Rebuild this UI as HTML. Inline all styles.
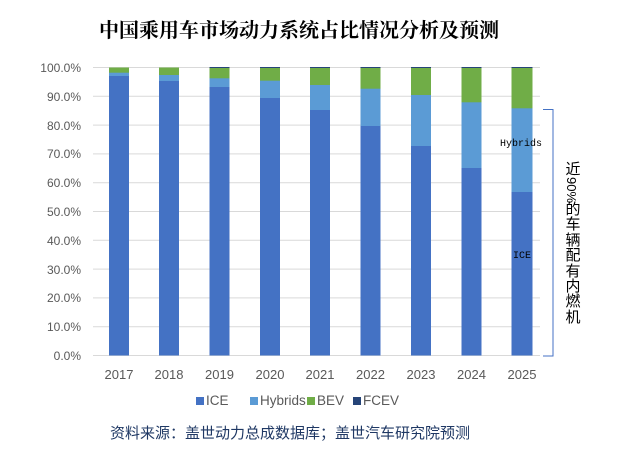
<!DOCTYPE html>
<html><head><meta charset="utf-8"><style>
body{margin:0;background:#fff;}
svg{display:block;}
</style></head><body>
<svg width="626" height="454" xmlns="http://www.w3.org/2000/svg">
<rect width="626" height="454" fill="#fff"/>
<text x="299" y="37" text-anchor="middle" font-family="'Noto Serif CJK SC','Noto Sans CJK SC',serif" font-weight="bold" font-size="20" fill="#000">中国乘用车市场动力系统占比情况分析及预测</text>
<g stroke="#d9d9d9" stroke-width="1">
<line x1="93" x2="540" y1="67.5" y2="67.5"/><line x1="93" x2="540" y1="96.3" y2="96.3"/><line x1="93" x2="540" y1="125.1" y2="125.1"/><line x1="93" x2="540" y1="153.9" y2="153.9"/><line x1="93" x2="540" y1="182.7" y2="182.7"/><line x1="93" x2="540" y1="211.5" y2="211.5"/><line x1="93" x2="540" y1="240.3" y2="240.3"/><line x1="93" x2="540" y1="269.1" y2="269.1"/><line x1="93" x2="540" y1="297.9" y2="297.9"/><line x1="93" x2="540" y1="326.7" y2="326.7"/><line x1="93" x2="540" y1="355.5" y2="355.5"/>
</g>
<g font-family="'Liberation Sans',sans-serif" font-size="12" fill="#595959" text-anchor="end">
<text x="81" y="72">100.0%</text><text x="81" y="101">90.0%</text><text x="81" y="130">80.0%</text><text x="81" y="158">70.0%</text><text x="81" y="187">60.0%</text><text x="81" y="216">50.0%</text><text x="81" y="245">40.0%</text><text x="81" y="274">30.0%</text><text x="81" y="302">20.0%</text><text x="81" y="331">10.0%</text><text x="81" y="360">0.0%</text>
</g>
<g>
<rect x="109" y="67.5" width="20" height="288" fill="#70ad47"/><rect x="109" y="72.7" width="20" height="282.8" fill="#5b9bd5"/><rect x="109" y="76" width="20" height="279.5" fill="#4472c4"/>
<rect x="159" y="67.5" width="20" height="288" fill="#70ad47"/><rect x="159" y="75" width="20" height="280.5" fill="#5b9bd5"/><rect x="159" y="81" width="20" height="274.5" fill="#4472c4"/>
<rect x="209.5" y="67.5" width="20" height="288" fill="#70ad47"/><rect x="209.5" y="78.3" width="20" height="277.2" fill="#5b9bd5"/><rect x="209.5" y="87" width="20" height="268.5" fill="#4472c4"/>
<rect x="260" y="67.5" width="20" height="288" fill="#70ad47"/><rect x="260" y="80.7" width="20" height="274.8" fill="#5b9bd5"/><rect x="260" y="98" width="20" height="257.5" fill="#4472c4"/>
<rect x="310" y="67.5" width="20" height="288" fill="#70ad47"/><rect x="310" y="85" width="20" height="270.5" fill="#5b9bd5"/><rect x="310" y="110" width="20" height="245.5" fill="#4472c4"/>
<rect x="360.5" y="67.5" width="20" height="288" fill="#70ad47"/><rect x="360.5" y="88.7" width="20" height="266.8" fill="#5b9bd5"/><rect x="360.5" y="126" width="20" height="229.5" fill="#4472c4"/>
<rect x="411" y="67.5" width="20" height="288" fill="#70ad47"/><rect x="411" y="95" width="20" height="260.5" fill="#5b9bd5"/><rect x="411" y="146" width="20" height="209.5" fill="#4472c4"/>
<rect x="461.5" y="67.5" width="20" height="288" fill="#70ad47"/><rect x="461.5" y="102.3" width="20" height="253.2" fill="#5b9bd5"/><rect x="461.5" y="168" width="20" height="187.5" fill="#4472c4"/>
<rect x="511.5" y="67.5" width="21" height="288" fill="#70ad47"/><rect x="511.5" y="108.3" width="21" height="247.2" fill="#5b9bd5"/><rect x="511.5" y="192" width="21" height="163.5" fill="#4472c4"/>
<g fill="#264478"><rect x="209.5" y="67" width="20" height="1"/><rect x="260" y="67" width="20" height="1"/><rect x="310" y="67" width="20" height="1"/><rect x="360.5" y="67" width="20" height="1"/><rect x="411" y="67" width="20" height="1"/><rect x="461.5" y="67" width="20" height="1"/><rect x="511.5" y="67" width="21" height="1"/></g>
</g>
<g font-family="'Liberation Sans',sans-serif" font-size="13" fill="#595959" text-anchor="middle">
<text x="119" y="379">2017</text><text x="169" y="379">2018</text><text x="219.5" y="379">2019</text><text x="270" y="379">2020</text><text x="320" y="379">2021</text><text x="370.5" y="379">2022</text><text x="421" y="379">2023</text><text x="471.5" y="379">2024</text><text x="522" y="379">2025</text>
</g>
<g font-family="'Liberation Sans',sans-serif" font-size="13.5" fill="#595959">
<rect x="196" y="397" width="8" height="8" fill="#4472c4"/><text x="206" y="405">ICE</text>
<rect x="250" y="397" width="8" height="8" fill="#5b9bd5"/><text x="260" y="405">Hybrids</text>
<rect x="307" y="397" width="8" height="8" fill="#70ad47"/><text x="317" y="405">BEV</text>
<rect x="353" y="397" width="8" height="8" fill="#264478"/><text x="363" y="405">FCEV</text>
</g>
<text x="290" y="438" text-anchor="middle" font-family="'Liberation Sans','Noto Sans CJK SC',sans-serif" font-size="15" fill="#1f3864">资料来源：盖世动力总成数据库；盖世汽车研究院预测</text>
<g font-family="'Liberation Mono','Noto Sans CJK SC',monospace" font-size="10" fill="#000" text-anchor="middle">
<text x="521" y="146">Hybrids</text><text x="522" y="258">ICE</text>
</g>
<path d="M543,109.5 H553 V356 H543" fill="none" stroke="#4472c4" stroke-width="1"/>
<g font-family="'Liberation Sans','Noto Sans CJK SC',sans-serif" font-size="15" fill="#000" text-anchor="middle">
<text x="573" y="174">近</text>
<text font-size="13" transform="translate(567,190) rotate(90)" text-anchor="middle">90%</text>
<text x="573" y="214">的</text>
<text x="573" y="229">车</text>
<text x="573" y="245">辆</text>
<text x="573" y="260">配</text>
<text x="573" y="276">有</text>
<text x="573" y="291">内</text>
<text x="573" y="306">燃</text>
<text x="573" y="322">机</text>
</g>
</svg>
</body></html>
